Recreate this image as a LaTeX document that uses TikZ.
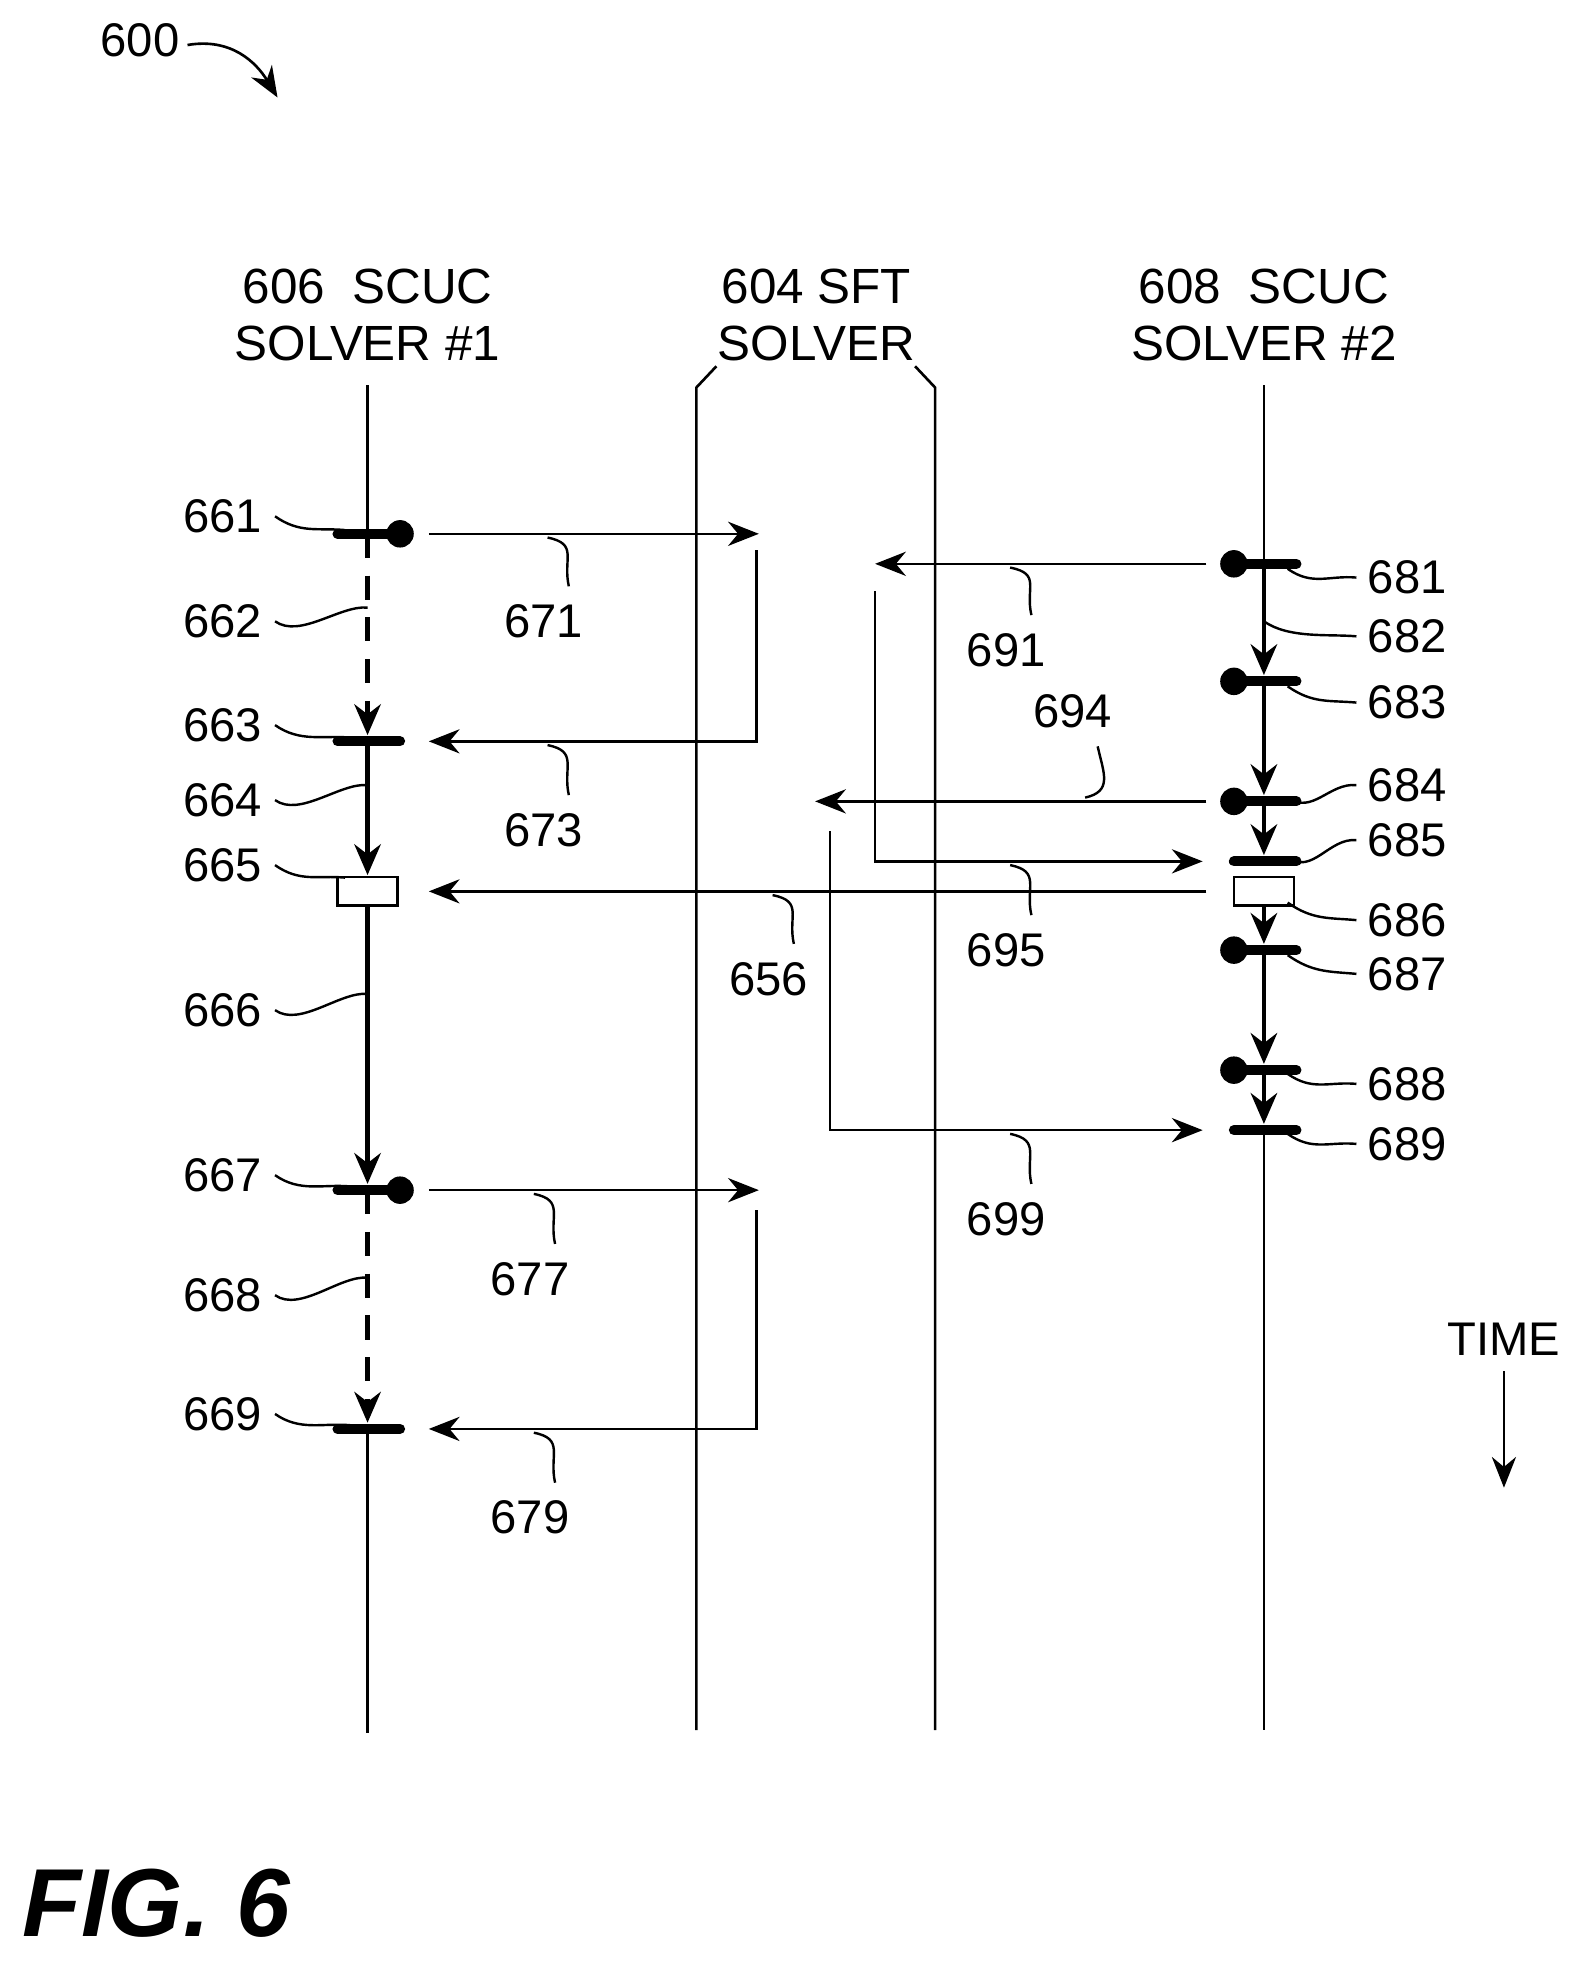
\documentclass[tikz,border=0pt]{standalone}
\usepackage{fontspec}
\setmainfont{Liberation Sans}
\usetikzlibrary{arrows.meta}
\tikzset{%
  life/.style  = {line width=1.2pt},
  flow/.style  = {line width=1.2pt, -{Stealth[length=14pt,width=11pt]}},
  stp/.style   = {line width=2.2pt, -{Stealth[length=14pt,width=12pt]}},
  dstp/.style  = {stp, dash pattern=on 11pt off 8pt},
  bar/.style   = {line width=4.6pt, line cap=round},
  dot/.style   = {circle, fill, inner sep=0pt, minimum size=12.5pt},
  box/.style   = {draw, line width=1.2pt, minimum width=0.96cm, minimum height=0.46cm, inner sep=0pt},
  lbl/.style   = {font=\fontsize{21.5}{24}\selectfont},
  head/.style  = {font=\fontsize{22.5}{26}\selectfont, align=center},
  lead/.style  = {line width=1.1pt}
}
\newcommand{\wig}[2]{\draw[lead] (#1) .. controls +(20,14) and +(-22,-2) .. (#2);}
\begin{document}
\begin{tikzpicture}[x=0.02cm, y=-0.02cm]
  \useasboundingbox (0,0) rectangle (1270,1575);

  % headings
  \node[head] (h1) at (294,252) {606\ \ SCUC\\SOLVER \#1};
  \node[head] (h2) at (653,252) {604 SFT\\SOLVER};
  \node[head] (h3) at (1011,252) {608\ \ SCUC\\SOLVER \#2};

  % lifelines
  \draw[life] (294,308) -- (294,427);
  \draw[life] (294,1143) -- (294,1386);
  \draw[life] (573,293) -- (557,310) -- (557,1384);
  \draw[life] (732,293) -- (748,310) -- (748,1384);
  \draw[life] (1011,308) -- (1011,451);
  \draw[life] (1011,904) -- (1011,1384);

  % solver 1 events
  \coordinate (e661) at (294,427);  \coordinate (e663) at (294,593);
  \coordinate (e667) at (294,952);  \coordinate (e669) at (294,1143);
  \draw[dstp] (e661) -- (294,588);
  \draw[stp] (e663) -- (294,700);
  \draw[stp] (294,725) -- (294,947);
  \draw[dstp] (e667) -- (294,1138);
  \draw[bar] (270,427) -- (318,427); \node[dot] (d661) at (320,427) {};
  \draw[bar] (270,593) -- (320,593);
  \draw[bar] (270,952) -- (318,952); \node[dot] (d667) at (320,952) {};
  \draw[bar] (270,1143) -- (320,1143);
  \node[box, fill=white] (b665) at (294,713) {};

  % solver 2 events
  \coordinate (e681) at (1011,451); \coordinate (e683) at (1011,545);
  \coordinate (e684) at (1011,641); \coordinate (e685) at (1011,689);
  \coordinate (e687) at (1011,760); \coordinate (e688) at (1011,856);
  \coordinate (e689) at (1011,904);
  \draw[stp] (e681) -- (1011,540);
  \draw[stp] (e683) -- (1011,636);
  \draw[stp] (e684) -- (1011,684);
  \draw[stp] (1011,725) -- (1011,755);
  \draw[stp] (e687) -- (1011,851);
  \draw[stp] (e688) -- (1011,899);
  \foreach \y in {451,545,641,760,856}{
    \draw[bar] (990,\y) -- (1037,\y); \node[dot] at (987,\y) {};
  }
  \foreach \y in {689,904}{ \draw[bar] (987,\y) -- (1037,\y); }
  \node[box, fill=white] (b686) at (1011,713) {};

  % messages
  \coordinate (m671) at (343,427); \coordinate (t671) at (607,427);
  \coordinate (m673) at (605,440); \coordinate (t673) at (343,593);
  \coordinate (m677) at (343,952); \coordinate (t677) at (607,952);
  \coordinate (m679) at (605,968); \coordinate (t679) at (343,1143);
  \coordinate (m691) at (965,451); \coordinate (t691) at (700,451);
  \coordinate (m695) at (700,473); \coordinate (t695) at (962,689);
  \coordinate (m694) at (965,641); \coordinate (t694) at (652,641);
  \coordinate (m699) at (664,665); \coordinate (t699) at (962,904);
  \coordinate (m656) at (965,713); \coordinate (t656) at (343,713);
  \draw[flow] (m671) -- (t671);
  \draw[flow] (m673) |- (t673);
  \draw[flow] (m677) -- (t677);
  \draw[flow] (m679) |- (t679);
  \draw[flow] (m691) -- (t691);
  \draw[flow] (m695) |- (t695);
  \draw[flow] (m694) -- (t694);
  \draw[flow] (m699) |- (t699);
  \draw[flow] (m656) -- (t656);

  % left labels
  \foreach \n/\y/\ex/\ey in {661/413/276/424,662/497/294/486,663/580/280/590,664/640/294/628,
                             665/692/276/702,666/808/294/795,667/940/280/949,668/1036/294/1022,
                             669/1131/280/1140}{
    \node[lbl, anchor=east] (l\n) at (216,\y) {\n};
    \wig{220,\y}{\ex,\ey}
  }
  % right labels
  \foreach \n/\y/\sx/\sy in {681/462/1030/455,682/509/1011/497,683/562/1030/549,684/628/1030/638,
                             685/672/1030/686,686/736/1030/722,687/779/1030/764,688/867/1030/859,
                             689/915/1030/907}{
    \node[lbl, anchor=west] (r\n) at (1088,\y) {\n};
    \wig{\sx,\sy}{1085,\y}
  }
  % message labels
  \foreach \n/\x/\y/\ax/\ay in {671/435/497/438/430,673/435/664/438/596,677/424/1023/427/955,
                                679/424/1214/427/1146,691/805/520/808/454,695/805/760/808/692,
                                656/615/783/618/716,699/805/975/808/907}{
    \node[lbl] (a\n) at (\x,\y) {\n};
    \draw[lead] (\ax,\ay) .. controls +(25,5) and +(-5,-22) .. (\x+20,\y-28);
  }
  \node[lbl] (a694) at (858,569) {694};
  \draw[lead] (878,597) .. controls +(5,22) and +(22,-5) .. (868,638);

  % time
  \node[lbl] (time) at (1203,1071) {TIME};
  \draw[flow] (1203,1097) -- (1203,1190);

  % figure number
  \node[lbl] (n600) at (112,32) {600};
  \draw[flow] (150,36) .. controls (185,30) and (205,50) .. (222,78);
  \node[font=\fontsize{44}{50}\selectfont\bfseries\itshape] (fig) at (125,1522) {FIG. 6};
\end{tikzpicture}
\end{document}
